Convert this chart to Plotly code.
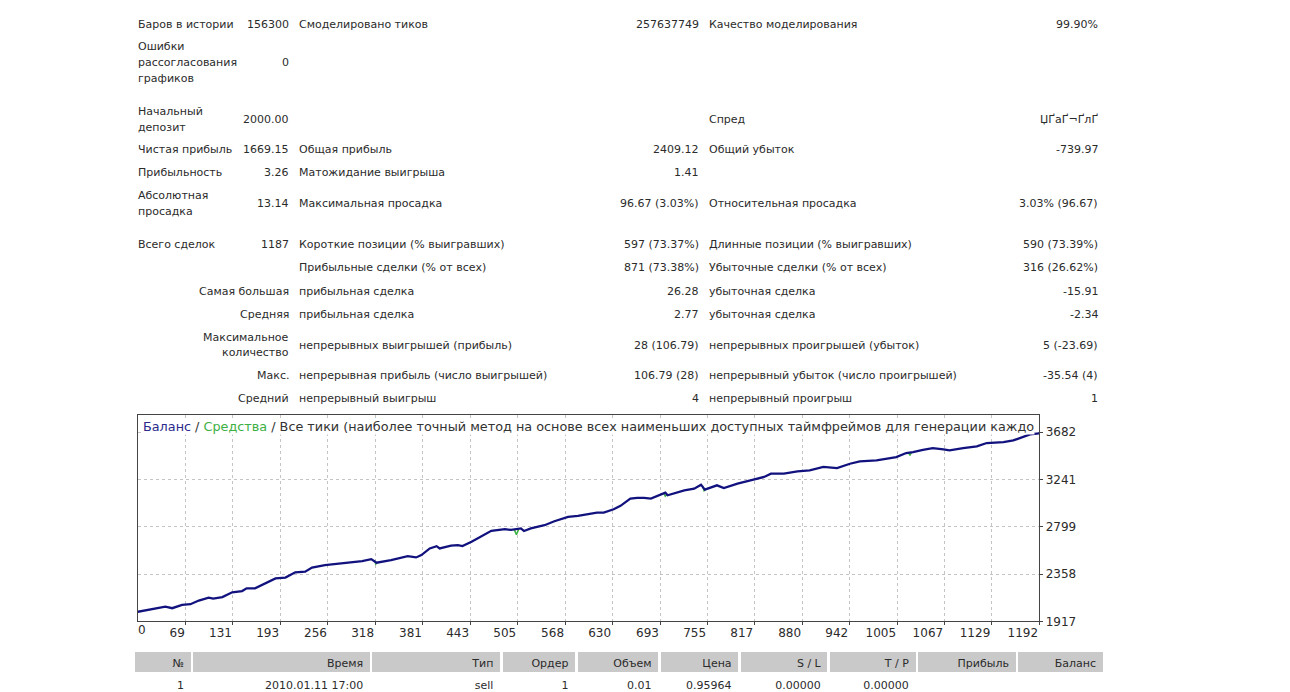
import plotly.graph_objects as go

W, H = 1290, 692          # reference picture size
FIG_H = 697               # figure height
FONT = "DejaVu Sans"
TXT = "#2b2b2b"

# ---------------- statistics block ----------------
LABELS_A = [["Баров в истории"], ["Ошибки", "рассогласования", "графиков"], ["Начальный", "депозит"],
            ["Чистая прибыль"], ["Прибыльность"], ["Абсолютная", "просадка"], ["Всего сделок"], [],
            ["Самая большая"], ["Средняя"], ["Максимальное", "количество"], ["Макс."], ["Средний"]]
VALUES_A = ["156300", "0", "2000.00", "1669.15", "3.26", "13.14", "1187", "", "", "", "", "", ""]
LABELS_B = ["Смоделировано тиков", "", "", "Общая прибыль", "Матожидание выигрыша", "Максимальная просадка",
            "Короткие позиции (% выигравших)", "Прибыльные сделки (% от всех)", "прибыльная сделка",
            "прибыльная сделка", "непрерывных выигрышей (прибыль)", "непрерывная прибыль (число выигрышей)",
            "непрерывный выигрыш"]
VALUES_B = ["257637749", "", "", "2409.12", "1.41", "96.67 (3.03%)", "597 (73.37%)", "871 (73.38%)",
            "26.28", "2.77", "28 (106.79)", "106.79 (28)", "4"]
LABELS_C = ["Качество моделирования", "", "Спред", "Общий убыток", "", "Относительная просадка",
            "Длинные позиции (% выигравших)", "Убыточные сделки (% от всех)", "убыточная сделка",
            "убыточная сделка", "непрерывных проигрышей (убыток)", "непрерывный убыток (число проигрышей)",
            "непрерывный проигрыш"]
VALUES_C = ["99.90%", "", "ЏҐаҐ¬ҐлҐ", "-739.97", "", "3.03% (96.67)", "590 (73.39%)", "316 (26.62%)",
            "-15.91", "-2.34", "5 (-23.69)", "-35.54 (4)", "1"]

# ---------------- balance / equity chart ----------------
BAL_X = [0, 24, 42, 51, 64, 75, 86, 99, 105, 117, 130, 143, 149, 160, 174, 187, 200, 213, 226, 235, 252,
         270, 288, 301, 313, 320, 339, 361, 372, 379, 390, 399, 403, 418, 427, 433, 445, 458, 471, 489,
         497, 510, 514, 523, 541, 554, 572, 585, 598, 610, 619, 632, 641, 654, 663, 672, 681, 692, 700,
         703, 725, 738, 747, 752, 768, 777, 795, 812, 830, 839, 856, 874, 890, 908, 926, 943, 956, 978,
         1000, 1004, 1017, 1026, 1039, 1052, 1066, 1074, 1092, 1110, 1123, 1145, 1158, 1167, 1180, 1192]
BAL_Y = [2000, 2029, 2056, 2041, 2071, 2078, 2112, 2140, 2130, 2145, 2189, 2201, 2226, 2226, 2273, 2319,
         2326, 2375, 2381, 2419, 2443, 2459, 2474, 2480, 2498, 2465, 2489, 2526, 2514, 2536, 2598, 2619,
         2598, 2623, 2629, 2619, 2660, 2712, 2762, 2777, 2770, 2784, 2760, 2784, 2814, 2851, 2892, 2902,
         2914, 2932, 2932, 2963, 2995, 3062, 3068, 3069, 3062, 3093, 3118, 3093, 3139, 3155, 3192, 3146,
         3186, 3161, 3202, 3232, 3264, 3294, 3294, 3316, 3325, 3357, 3347, 3387, 3409, 3418, 3440, 3449,
         3487, 3496, 3517, 3533, 3520, 3511, 3533, 3548, 3580, 3589, 3604, 3626, 3660, 3669]
EQ_X = [317, 319, 321, None, 501, 504, 507, None, 698, 700, 702, None, 749, 751, 753, None, 1020, 1022, 1024]
EQ_Y = [2490, 2452, 2466, None, 2778, 2725, 2775, None, 3110, 3085, 3100, None, 3180, 3135, 3146, None,
        3490, 3465, 3494]
X_TICKS = [69, 131, 193, 256, 318, 381, 443, 505, 568, 630, 693, 755, 817, 880, 942, 1005, 1067, 1129, 1192]
X_FIRST_LABEL = "0"
X_RANGE = [6, 1192.2]
Y_TICKS = [1917, 2358, 2799, 3241, 3682]
Y_RANGE = [1917, 3843]
CHART_TITLE = ('<span style="color:#2a2a8c">Баланс</span> / <span style="color:#3cb043">Средства</span> / '
               'Все тики (наиболее точный метод на основе всех наименьших доступных таймфреймов для генерации каждо')

# ---------------- orders table ----------------
TABLE_HEADERS = ["№", "Время", "Тип", "Ордер", "Объем", "Цена", "S / L", "T / P", "Прибыль", "Баланс"]
TABLE_ROW = ["1", "2010.01.11 17:00", "sell", "1", "0.01", "0.95964", "0.00000", "0.00000", "", ""]
TABLE_COL_W = [58, 179, 130, 75, 83, 80, 89, 88, 100, 87]


def Y(y):
    return (y + 2) * FIG_H / H


def px(x):
    return x / W


def py(y):
    return 1 - Y(y) / FIG_H


fig = go.Figure()


def text(x, y, s, anchor="left", size=11, color=TXT, bg=None):
    fig.add_annotation(x=px(x), y=py(y), xref="paper", yref="paper", text=s, showarrow=False,
                       xanchor=anchor, yanchor="middle", borderpad=0, bgcolor=bg,
                       font=dict(family=FONT, size=size, color=color))


ROW_Y = [23, 61, 118, 148, 171, 202, 243, 266, 290, 313, 344, 375, 398]
LINE_STEP = 16
for i, yc in enumerate(ROW_Y):
    lines = LABELS_A[i]
    n = len(lines)
    right_aligned = i >= 8
    for k, ln in enumerate(lines):
        yy = yc + (k - (n - 1) / 2) * LINE_STEP
        if right_aligned:
            text(290, yy, ln, "right")
        else:
            text(137, yy, ln, "left")
    if VALUES_A[i]:
        text(290, yc, VALUES_A[i], "right")
    if LABELS_B[i]:
        text(298, yc, LABELS_B[i], "left")
    if VALUES_B[i]:
        text(700, yc, VALUES_B[i], "right")
    if LABELS_C[i]:
        text(708, yc, LABELS_C[i], "left")
    if VALUES_C[i]:
        text(1099, yc, VALUES_C[i], "right")

# chart traces
fig.add_trace(go.Scatter(x=EQ_X, y=EQ_Y, mode="lines", line=dict(color="#3cb043", width=1.5),
                         hoverinfo="skip", showlegend=False, connectgaps=False))
fig.add_trace(go.Scatter(x=BAL_X, y=BAL_Y, mode="lines", line=dict(color="#12127f", width=2.3),
                         showlegend=False))

x_dom = [138 / W, 1039.3 / W]
y_dom = [py(621.3), py(414)]
tickfont = dict(family=FONT, size=12, color=TXT)

fig.update_layout(
    width=W, height=FIG_H, margin=dict(l=0, r=0, t=0, b=0),
    paper_bgcolor="white", plot_bgcolor="white", showlegend=False,
    xaxis=dict(domain=x_dom, range=X_RANGE, tickvals=X_TICKS, ticktext=[str(v) for v in X_TICKS],
               ticklabelposition="outside left", ticks="outside", ticklen=3, tickcolor="#444",
               showgrid=True, gridcolor="#c4c4c4", griddash="3px,3px", gridwidth=1,
               showline=True, linecolor="#444", linewidth=1, mirror=True, zeroline=False,
               tickfont=tickfont, fixedrange=True),
    xaxis2=dict(domain=x_dom, range=X_RANGE, overlaying="x", anchor="y", side="bottom",
                tickvals=[X_RANGE[0]], ticktext=[X_FIRST_LABEL], ticklabelposition="outside right",
                ticks="", showgrid=False, showline=False, zeroline=False, tickfont=tickfont),
    yaxis=dict(domain=y_dom, range=Y_RANGE, side="right", tickvals=Y_TICKS,
               ticktext=[str(v) for v in Y_TICKS], ticks="outside", ticklen=3, tickcolor="#444",
               showgrid=True, gridcolor="#c4c4c4", griddash="3px,3px", gridwidth=1,
               showline=True, linecolor="#444", linewidth=1, mirror=True, zeroline=False,
               tickfont=tickfont, fixedrange=True),
)
# invisible trace to activate xaxis2
fig.add_trace(go.Scatter(x=[X_RANGE[0]], y=[Y_RANGE[0]], xaxis="x2", yaxis="y", mode="markers",
                         marker=dict(opacity=0), hoverinfo="skip", showlegend=False))

# chart title with white background (hides top gridline)
text(142, 426, CHART_TITLE, "left", size=12.8, color="#333333", bg="white")

# orders table
fig.add_trace(go.Table(
    domain=dict(x=[134 / W, 1104 / W], y=[0, py(651)]),
    columnwidth=TABLE_COL_W,
    header=dict(values=TABLE_HEADERS, fill_color="#c9c9c9", align="right", height=22,
                line=dict(color="white", width=2.5), font=dict(family=FONT, size=11, color=TXT)),
    cells=dict(values=[[v] for v in TABLE_ROW], fill_color="white", align="right", height=17,
               line=dict(color="white", width=2.5), font=dict(family=FONT, size=11, color=TXT)),
))

fig.write_html("out.html")
